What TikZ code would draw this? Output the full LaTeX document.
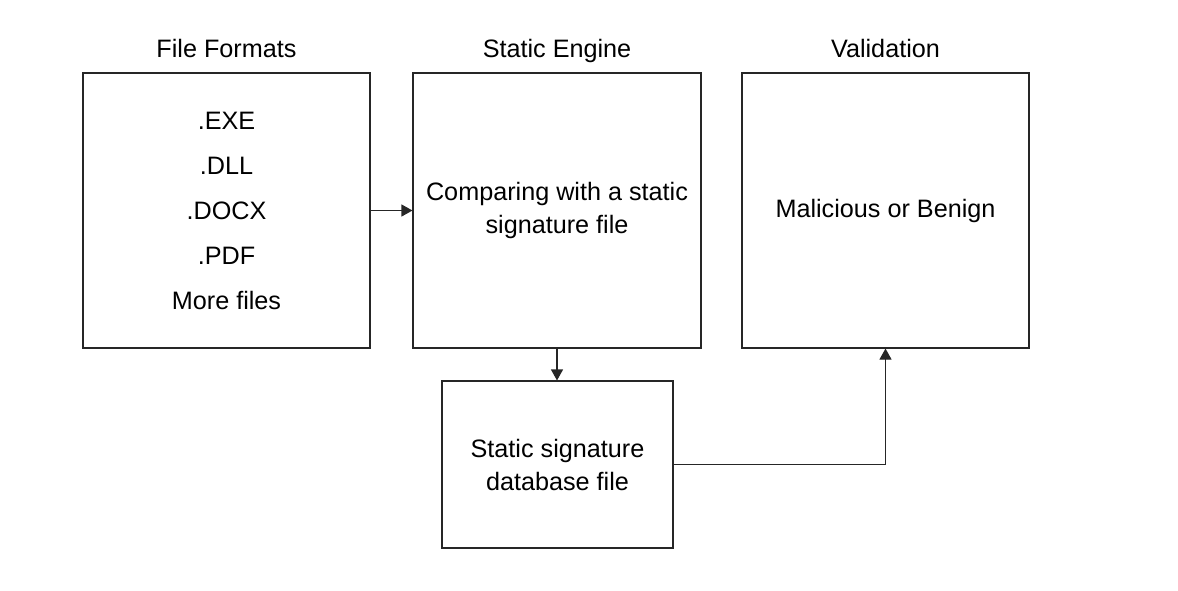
\documentclass[tikz,border=0pt]{standalone}
\usepackage{fontspec}
\setmainfont{Liberation Sans}
\usetikzlibrary{arrows.meta}

\begin{document}
\begin{tikzpicture}[x=0.5pt, y=-0.5pt, every node/.style={font=\fontsize{12.6}{14}\selectfont},
		box/.style={draw=black!85, line width=0.55pt, align=center, inner sep=0pt},
		link/.style={draw=black!85, -{Triangle[length=5.5pt, width=6pt]}, line width=0.55pt}]
	\useasboundingbox (0,0) rectangle (1178,590);

	% Titles
	\node[anchor=base] (tff) at (226.5, 57) {File Formats};
	\node[anchor=base] (tse) at (557, 57) {Static Engine};
	\node[anchor=base] (tval) at (885.5, 57) {Validation};

	% Boxes
	\node[box, minimum width=143.5pt, minimum height=137.5pt, font=\fontsize{12.6}{22.5}\selectfont] (ff) at (226.5, 210.5)
		{.EXE\\.DLL\\.DOCX\\.PDF\\More files};
	\node[box, minimum width=144pt, minimum height=137.5pt, font=\fontsize{12.6}{16.5}\selectfont] (se) at (557, 210.5)
		{Comparing with a static\\signature file};
	\node[box, minimum width=143.5pt, minimum height=137.5pt] (val) at (885.5, 210.5) {Malicious or Benign};
	\node[box, minimum width=115.5pt, minimum height=83.5pt, font=\fontsize{12.6}{16.5}\selectfont] (db) at (557.5, 464.5)
		{Static signature\\database file};

	% Links
	\draw[link] (ff.east) -- (se.west);
	\draw[link] (se.south) -- (se.south |- db.north);
	\draw[link] (db.east) -| (val.south);
\end{tikzpicture}
\end{document}
